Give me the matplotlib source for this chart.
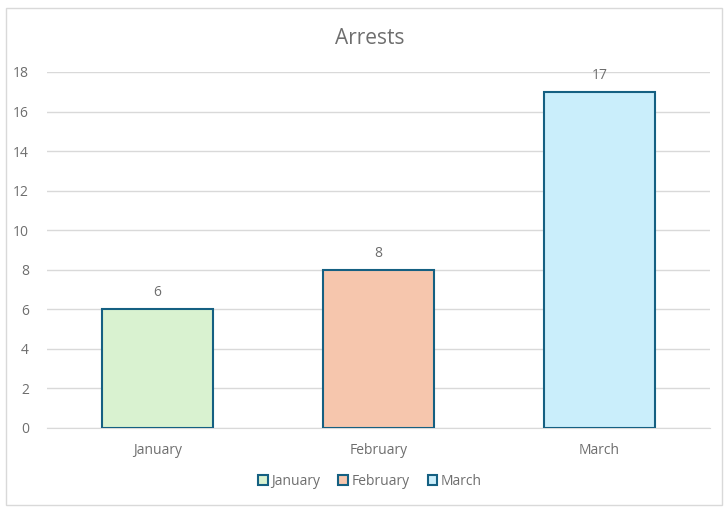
import matplotlib.pyplot as plt
from matplotlib.patches import Rectangle, Patch

# DATA
months = ["January", "February", "March"]
arrests = [6, 8, 17]
fill_colors = ["#d9f2d0", "#f6c6ad", "#caeefb"]
edge_color = "#156082"
text_color = "#6e6e6e"
grid_color = "#d9d9d9"

plt.rcParams["font.family"] = ["Open Sans", "DejaVu Sans"]

fig = plt.figure(figsize=(7.28, 5.08), dpi=100)
ax = fig.add_axes([0.0646, 0.1575, 0.9104, 0.7008])

# CHART BORDER
fig.patches.append(Rectangle((0.008, 0.006), 0.984, 0.978, transform=fig.transFigure,
                             fill=False, edgecolor=grid_color, linewidth=1))

bars = ax.bar(range(len(months)), arrests, width=0.5, color=fill_colors,
              edgecolor=edge_color, linewidth=1.5, zorder=3)

for i, v in enumerate(arrests):
    ax.text(i, v + 0.45, str(v), ha="center", va="bottom", color=text_color, fontsize=10)

ax.set_xlim(-0.5, 2.5)
ax.set_ylim(0, 18)
ax.set_yticks(range(0, 19, 2))
ax.set_xticks(range(len(months)))
ax.set_xticklabels(months)
ax.grid(axis="y", color=grid_color, linewidth=1, zorder=0)
for s in ["top", "right", "left"]:
    ax.spines[s].set_visible(False)
ax.spines["bottom"].set_color(grid_color)
ax.tick_params(axis="both", length=0, colors=text_color, labelsize=10)
ax.tick_params(axis="y", pad=13)
ax.tick_params(axis="x", pad=11)

fig.text(0.508, 0.925, "Arrests", ha="center", va="center", fontsize=15, color=text_color)

handles = [Patch(facecolor=c, edgecolor=edge_color, linewidth=1.5) for c in fill_colors]
fig.legend(handles, months, loc="center", bbox_to_anchor=(0.508, 0.053), ncol=3,
           frameon=False, fontsize=10, labelcolor=text_color, handlelength=0.7,
           handleheight=0.7, handletextpad=0.25, columnspacing=1.3)

fig.savefig("out.png", dpi=100)
